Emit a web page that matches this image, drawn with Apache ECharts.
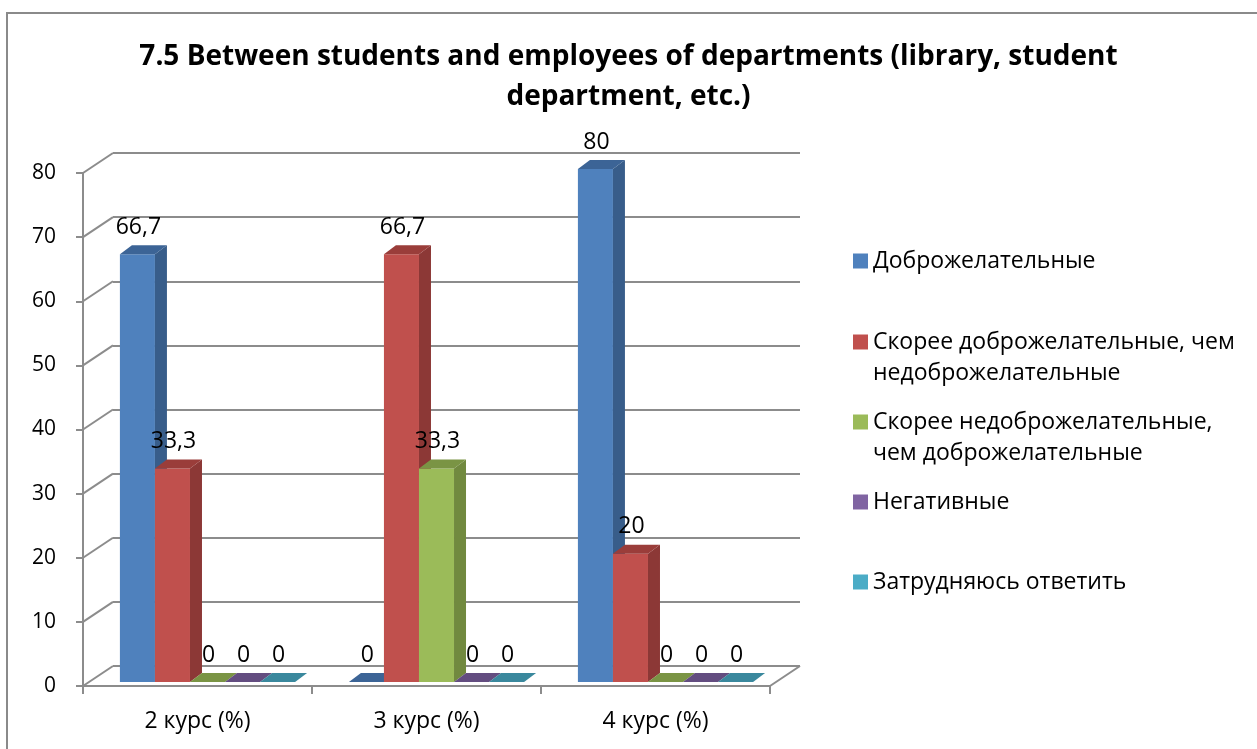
<!DOCTYPE html>
<html>
<head>
<meta charset="utf-8">
<script src="https://cdn.jsdelivr.net/npm/echarts@6/dist/echarts.min.js"></script>
<style>
  html, body { margin: 0; padding: 0; background: #fff; }
  #chart { width: 1257px; height: 749px; }
</style>
</head>
<body>
<div id="chart"></div>
<script>
// MARK: - Data

const categories = ['2 курс (%)', '3 курс (%)', '4 курс (%)'];

const seriesNames = [
    'Доброжелательные',
    'Скорее доброжелательные, чем\nнедоброжелательные',
    'Скорее недоброжелательные,\nчем доброжелательные',
    'Негативные',
    'Затрудняюсь ответить'
];

const friendly = [66.7, 0, 80];
const ratherFriendly = [33.3, 66.7, 20];
const ratherUnfriendly = [0, 33.3, 0];
const negative = [0, 0, 0];
const hardToSay = [0, 0, 0];

const yTicks = [0, 10, 20, 30, 40, 50, 60, 70, 80];

const allValues = [friendly, ratherFriendly, ratherUnfriendly, negative, hardToSay];

// MARK: - Styles

const frontColors = ['#4f81bd', '#c0504d', '#9bbb59', '#8064a2', '#4bacc6'];
const sideColors = ['#385d8a', '#8c3836', '#71893f', '#5c4776', '#357d91'];
const topColors = ['#3c6496', '#9a3d3a', '#7a9444', '#634d80', '#3a889d'];
const legendTops = [245.5, 295.5, 375.5, 486.5, 566.5];

const FONT = '"Open Sans", "Noto Sans", sans-serif';
const GRID_COLOR = '#8c8c8c';
const DEPTH_X = 30, DEPTH_Y = -20;   // wall depth
const BAR_DX = 10, BAR_DY = -4;      // bars sit inside the depth
const SIDE_X = 12, SIDE_Y = -9;      // bar thickness

let chart = echarts.init(document.getElementById('chart'));

function fmt(v) {
    return String(v).replace('.', ',');
}

function renderBar(params, api) {
    let s = params.seriesIndex - 1;
    let ci = api.value(0);
    let v = api.value(1);
    let base = api.coord([ci, 0]);
    let top = api.coord([ci, v]);
    let band = api.size([1, 0])[0];
    let bw = band * 0.153;
    let x0 = base[0] + (s - 2.5) * bw + BAR_DX;
    let y0 = base[1] + BAR_DY;
    let y1 = top[1] + BAR_DY;
    return {
        type: 'group',
        children: [
            {
                type: 'rect',
                shape: {x: x0, y: y1, width: bw, height: y0 - y1},
                style: {fill: frontColors[s]}
            },
            {
                type: 'polygon',
                shape: {points: [[x0 + bw, y1], [x0 + bw + SIDE_X, y1 + SIDE_Y], [x0 + bw + SIDE_X, y0 + SIDE_Y], [x0 + bw, y0]]},
                style: {fill: sideColors[s]}
            },
            {
                type: 'polygon',
                shape: {points: [[x0, y1], [x0 + SIDE_X, y1 + SIDE_Y], [x0 + bw + SIDE_X, y1 + SIDE_Y], [x0 + bw, y1]]},
                style: {fill: topColors[s]}
            },
            {
                type: 'text',
                z2: 10,
                style: {
                    x: x0 + bw / 2 + 1,
                    y: y1 - 27,
                    text: fmt(v),
                    align: 'center',
                    verticalAlign: 'middle',
                    fill: '#000',
                    font: '23px ' + FONT
                }
            }
        ]
    };
}

function renderWallEdges(params, api) {
    let cs = params.coordSys;
    let p = api.coord([0, api.value(0)]);
    let children = [{
        type: 'line',
        shape: {x1: cs.x, y1: p[1], x2: cs.x + DEPTH_X, y2: p[1] + DEPTH_Y},
        style: {stroke: GRID_COLOR, lineWidth: 2}
    }];
    if (api.value(0) === 0) {
        children.push({
            type: 'line',
            shape: {x1: cs.x + cs.width, y1: p[1], x2: cs.x + cs.width + DEPTH_X, y2: p[1] + DEPTH_Y},
            style: {stroke: GRID_COLOR, lineWidth: 2}
        });
    }
    return {type: 'group', children: children};
}

let series = [{
    type: 'custom',
    name: 'walls',
    xAxisIndex: 1,
    yAxisIndex: 1,
    renderItem: renderWallEdges,
    data: yTicks.map(t => [t]),
    silent: true,
    z: 1
}];

allValues.forEach((vals, i) => {
    series.push({
        type: 'custom',
        name: seriesNames[i],
        xAxisIndex: 1,
        yAxisIndex: 1,
        itemStyle: {color: frontColors[i]},
        encode: {x: 0, y: 1},
        renderItem: renderBar,
        data: vals.map((v, ci) => [ci, v]),
        z: 3
    });
});

let legends = seriesNames.map((name, i) => ({
    data: [name],
    left: 853,
    top: legendTops[i],
    padding: 0,
    icon: 'rect',
    itemWidth: 15,
    itemHeight: 15,
    selectedMode: false,
    formatter: n => n.includes('\n') ? '\n' + n : n,
    textStyle: {fontFamily: FONT, fontSize: 23, lineHeight: 31, color: '#000'}
}));

let option = {
    backgroundColor: '#fff',
    animation: false,
    title: {
        text: '7.5 Between students and employees of departments (library, student\ndepartment, etc.)',
        left: 'center',
        top: 32,
        textStyle: {fontFamily: FONT, fontSize: 28, fontWeight: 'bold', lineHeight: 40, color: '#000'}
    },
    legend: legends,
    graphic: [{
        type: 'rect',
        shape: {x: 7, y: 13, width: 1400, height: 900},
        style: {fill: 'none', stroke: '#8a8a8a', lineWidth: 2},
        silent: true
    }],
    grid: [
        {left: 113, top: 153, width: 687, height: 513},
        {left: 83, top: 173, width: 687, height: 513}
    ],
    xAxis: [
        {
            gridIndex: 0, type: 'category', data: categories, show: false
        },
        {
            gridIndex: 1, type: 'category', data: categories,
            axisLine: {lineStyle: {color: GRID_COLOR, width: 2}},
            axisTick: {show: true, length: 8, lineStyle: {color: GRID_COLOR, width: 2}},
            axisLabel: {fontFamily: FONT, fontSize: 23, color: '#000', margin: 24}
        }
    ],
    yAxis: [
        {
            gridIndex: 0, type: 'value', min: 0, max: 80, interval: 10,
            axisLine: {show: false}, axisTick: {show: false}, axisLabel: {show: false},
            splitLine: {lineStyle: {color: GRID_COLOR, width: 2}}
        },
        {
            gridIndex: 1, type: 'value', min: 0, max: 80, interval: 10,
            axisLine: {show: true, lineStyle: {color: GRID_COLOR, width: 2}},
            axisTick: {show: true, length: 7, lineStyle: {color: GRID_COLOR, width: 2}},
            axisLabel: {fontFamily: FONT, fontSize: 21, color: '#000', margin: 27},
            splitLine: {show: false}
        }
    ],
    series: series
};

option && chart.setOption(option);
</script>
</body>
</html>
